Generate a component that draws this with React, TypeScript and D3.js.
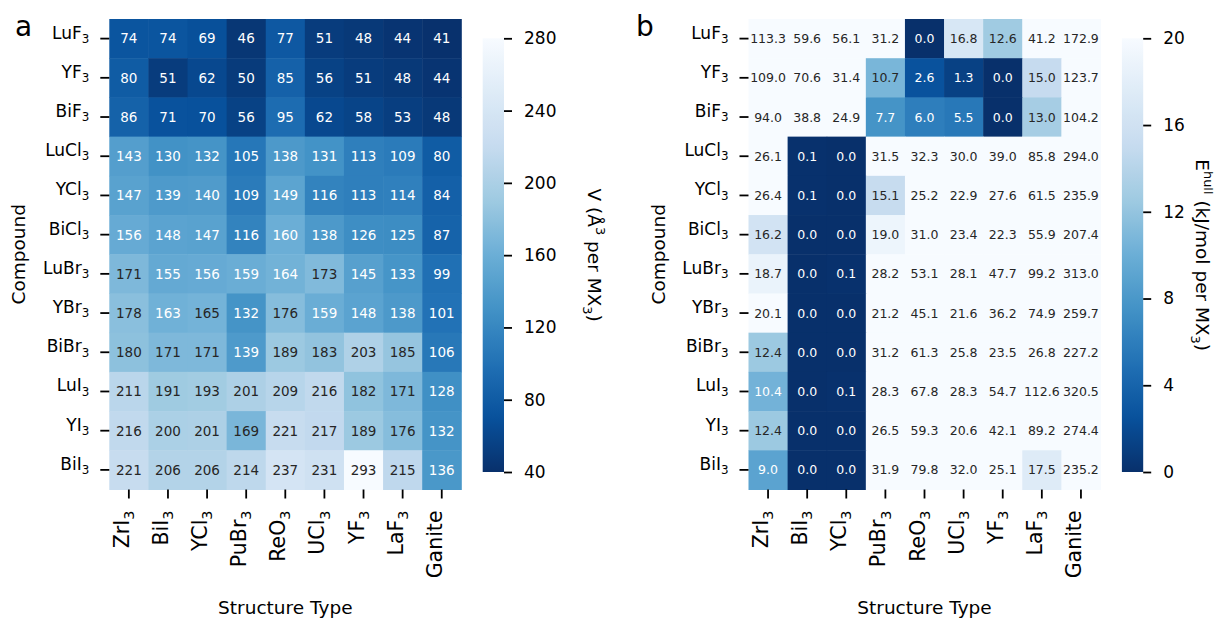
import React, { useEffect, useRef } from 'react'
import * as d3 from 'd3'

// compound formulas (base + subscript 3)
const compounds = ['LuF', 'YF', 'BiF', 'LuCl', 'YCl', 'BiCl', 'LuBr', 'YBr', 'BiBr', 'LuI', 'YI', 'BiI']
const structures = ['ZrI', 'BiI', 'YCl', 'PuBr', 'ReO', 'UCl', 'YF', 'LaF', 'Ganite']

// volume per formula unit (Å^3 per MX3)
const volumes = [
  [74, 74, 69, 46, 77, 51, 48, 44, 41],
  [80, 51, 62, 50, 85, 56, 51, 48, 44],
  [86, 71, 70, 56, 95, 62, 58, 53, 48],
  [143, 130, 132, 105, 138, 131, 113, 109, 80],
  [147, 139, 140, 109, 149, 116, 113, 114, 84],
  [156, 148, 147, 116, 160, 138, 126, 125, 87],
  [171, 155, 156, 159, 164, 173, 145, 133, 99],
  [178, 163, 165, 132, 176, 159, 148, 138, 101],
  [180, 171, 171, 139, 189, 183, 203, 185, 106],
  [211, 191, 193, 201, 209, 216, 182, 171, 128],
  [216, 200, 201, 169, 221, 217, 189, 176, 132],
  [221, 206, 206, 214, 237, 231, 293, 215, 136],
]

// energy above hull (kJ/mol per MX3)
const hullEnergies = [
  [113.3, 59.6, 56.1, 31.2, 0.0, 16.8, 12.6, 41.2, 172.9],
  [109.0, 70.6, 31.4, 10.7, 2.6, 1.3, 0.0, 15.0, 123.7],
  [94.0, 38.8, 24.9, 7.7, 6.0, 5.5, 0.0, 13.0, 104.2],
  [26.1, 0.1, 0.0, 31.5, 32.3, 30.0, 39.0, 85.8, 294.0],
  [26.4, 0.1, 0.0, 15.1, 25.2, 22.9, 27.6, 61.5, 235.9],
  [16.2, 0.0, 0.0, 19.0, 31.0, 23.4, 22.3, 55.9, 207.4],
  [18.7, 0.0, 0.1, 28.2, 53.1, 28.1, 47.7, 99.2, 313.0],
  [20.1, 0.0, 0.0, 21.2, 45.1, 21.6, 36.2, 74.9, 259.7],
  [12.4, 0.0, 0.0, 31.2, 61.3, 25.8, 23.5, 26.8, 227.2],
  [10.4, 0.0, 0.1, 28.3, 67.8, 28.3, 54.7, 112.6, 320.5],
  [12.4, 0.0, 0.0, 26.5, 59.3, 20.6, 42.1, 89.2, 274.4],
  [9.0, 0.0, 0.0, 31.9, 79.8, 32.0, 25.1, 17.5, 235.2],
]

const volumeTicks = [40, 80, 120, 160, 200, 240, 280]
const hullTicks = [0, 4, 8, 12, 16, 20]

const FONT = 'DejaVu Sans, Verdana, sans-serif'
const TICK_SIZE = 17
const XTICK_SIZE = 20.5
const LABEL_SIZE = 18.5
const TOP = 19
const BOTTOM = 489.5
const CB_TOP = 38.3
const CB_BOTTOM = 472

// matplotlib Blues_r
const blues = d3.piecewise(d3.interpolateRgb, d3.schemeBlues[9].slice().reverse())

const textColor = (c) => {
  const { r, g, b } = d3.rgb(c)
  const lin = (v) => {
    v /= 255
    return v <= 0.03928 ? v / 12.92 : Math.pow((v + 0.055) / 1.055, 2.4)
  }
  const lum = 0.2126 * lin(r) + 0.7152 * lin(g) + 0.0722 * lin(b)
  return lum > 0.408 ? '#262626' : '#ffffff'
}

// parts: [text, 'n' | 'sub' | 'sup']
const rich = (text, parts, fs) => {
  let shift = 0
  parts.forEach(([t, kind]) => {
    const target = kind === 'sub' ? 0.25 * fs : kind === 'sup' ? -0.45 * fs : 0
    text
      .append('tspan')
      .attr('dy', target - shift)
      .attr('font-size', kind === 'n' ? fs : fs * 0.7)
      .text(t)
    shift = target
  })
}

const chem = (name) => (name === 'Ganite' ? [[name, 'n']] : [[name, 'n'], ['3', 'sub']])

const drawPanel = (svg, o) => {
  const x = d3
    .scaleBand()
    .domain(d3.range(structures.length))
    .range([o.left, o.left + 352])
  const y = d3.scaleBand().domain(d3.range(compounds.length)).range([TOP, BOTTOM])
  const norm = d3.scaleLinear().domain(o.domain).range([0, 1]).clamp(true)
  const color = (v) => blues(norm(v))

  const g = svg.append('g')

  const cells = o.values.flatMap((row, i) => row.map((v, j) => ({ i, j, v })))

  g.selectAll('rect.cell')
    .data(cells)
    .join('rect')
    .attr('x', (d) => x(d.j))
    .attr('y', (d) => y(d.i))
    .attr('width', x.bandwidth() + 0.5)
    .attr('height', y.bandwidth() + 0.5)
    .attr('fill', (d) => color(d.v))

  g.selectAll('text.cell')
    .data(cells)
    .join('text')
    .attr('x', (d) => x(d.j) + x.bandwidth() / 2)
    .attr('y', (d) => y(d.i) + y.bandwidth() / 2)
    .attr('dy', '0.36em')
    .attr('text-anchor', 'middle')
    .attr('font-size', o.cellFont)
    .attr('fill', (d) => textColor(color(d.v)))
    .text((d) => o.fmt(d.v))

  // y ticks
  compounds.forEach((c, i) => {
    const cy = y(i) + y.bandwidth() / 2
    g.append('line')
      .attr('x1', o.left - 9)
      .attr('x2', o.left)
      .attr('y1', cy)
      .attr('y2', cy)
      .attr('stroke', '#000')
      .attr('stroke-width', 1.8)
    const t = g
      .append('text')
      .attr('x', o.left - 20)
      .attr('y', cy)
      .attr('dy', '0.36em')
      .attr('text-anchor', 'end')
    rich(t, chem(c), TICK_SIZE)
  })

  // x ticks
  structures.forEach((s, j) => {
    const cx = x(j) + x.bandwidth() / 2
    g.append('line')
      .attr('x1', cx)
      .attr('x2', cx)
      .attr('y1', BOTTOM)
      .attr('y2', BOTTOM + 9)
      .attr('stroke', '#000')
      .attr('stroke-width', 1.8)
    const t = g
      .append('text')
      .attr('transform', `translate(${cx},${BOTTOM + 21}) rotate(-90)`)
      .attr('dy', '0.36em')
      .attr('text-anchor', 'end')
    rich(t, chem(s), XTICK_SIZE)
  })

  g.append('text')
    .attr('x', o.left + 176)
    .attr('y', 614)
    .attr('text-anchor', 'middle')
    .attr('font-size', LABEL_SIZE)
    .text('Structure Type')

  g.append('text')
    .attr('transform', `translate(${o.left - 84},${(TOP + BOTTOM) / 2}) rotate(-90)`)
    .attr('text-anchor', 'middle')
    .attr('font-size', LABEL_SIZE)
    .text('Compound')

  g.append('text')
    .attr('x', o.letterX)
    .attr('y', 36)
    .attr('font-size', 28)
    .text(o.letter)

  // colorbar
  const cbLeft = o.left + 373.4
  const cbW = 21.3
  const gid = `grad-${o.letter}`
  const grad = svg
    .append('defs')
    .append('linearGradient')
    .attr('id', gid)
    .attr('x1', 0)
    .attr('x2', 0)
    .attr('y1', 0)
    .attr('y2', 1)
  d3.range(0, 1.0001, 0.02).forEach((t) => {
    grad.append('stop').attr('offset', t).attr('stop-color', blues(1 - t))
  })
  g.append('rect')
    .attr('x', cbLeft)
    .attr('y', CB_TOP)
    .attr('width', cbW)
    .attr('height', CB_BOTTOM - CB_TOP)
    .attr('fill', `url(#${gid})`)

  const cbScale = d3.scaleLinear().domain(o.domain).range([CB_BOTTOM, CB_TOP])
  const axis = g
    .append('g')
    .attr('transform', `translate(${cbLeft + cbW},0)`)
    .call(d3.axisRight(cbScale).tickValues(o.ticks).tickSize(8).tickPadding(12))
  axis.select('.domain').remove()
  axis.selectAll('line').attr('stroke-width', 1.8)
  axis.selectAll('text').attr('font-size', TICK_SIZE).attr('font-family', FONT).attr('fill', '#000')

  const lbl = g
    .append('text')
    .attr('transform', `translate(${cbLeft + o.cbLabelOffset},${(CB_TOP + CB_BOTTOM) / 2}) rotate(90)`)
    .attr('text-anchor', 'middle')
    .attr('dy', '0.36em')
  rich(lbl, o.cbLabel, LABEL_SIZE)
}

const App = () => {
  const ref = useRef(null)

  useEffect(() => {
    const svg = d3.select(ref.current)
    svg.selectAll('*').remove()

    drawPanel(svg, {
      left: 109.3,
      letterX: 15,
      letter: 'a',
      values: volumes,
      domain: [40, 280],
      ticks: volumeTicks,
      fmt: (v) => d3.format('d')(v),
      cellFont: 13.5,
      cbLabelOffset: 105,
      cbLabel: [
        ['V (Å', 'n'],
        ['3', 'sup'],
        [' per MX', 'n'],
        ['3', 'sub'],
        [')', 'n'],
      ],
    })

    drawPanel(svg, {
      left: 748.5,
      letterX: 636,
      letter: 'b',
      values: hullEnergies,
      domain: [0, 20],
      ticks: hullTicks,
      fmt: (v) => d3.format('.1f')(v),
      cellFont: 12.5,
      cbLabelOffset: 74,
      cbLabel: [
        ['E', 'n'],
        ['hull', 'sup'],
        [' (kJ/mol per MX', 'n'],
        ['3', 'sub'],
        [')', 'n'],
      ],
    })
  }, [])

  return (
    <svg
      ref={ref}
      width={1225}
      height={620}
      style={{ position: 'absolute', left: 0, top: 0, background: '#fff' }}
      fontFamily={FONT}
    />
  )
}

export default App
